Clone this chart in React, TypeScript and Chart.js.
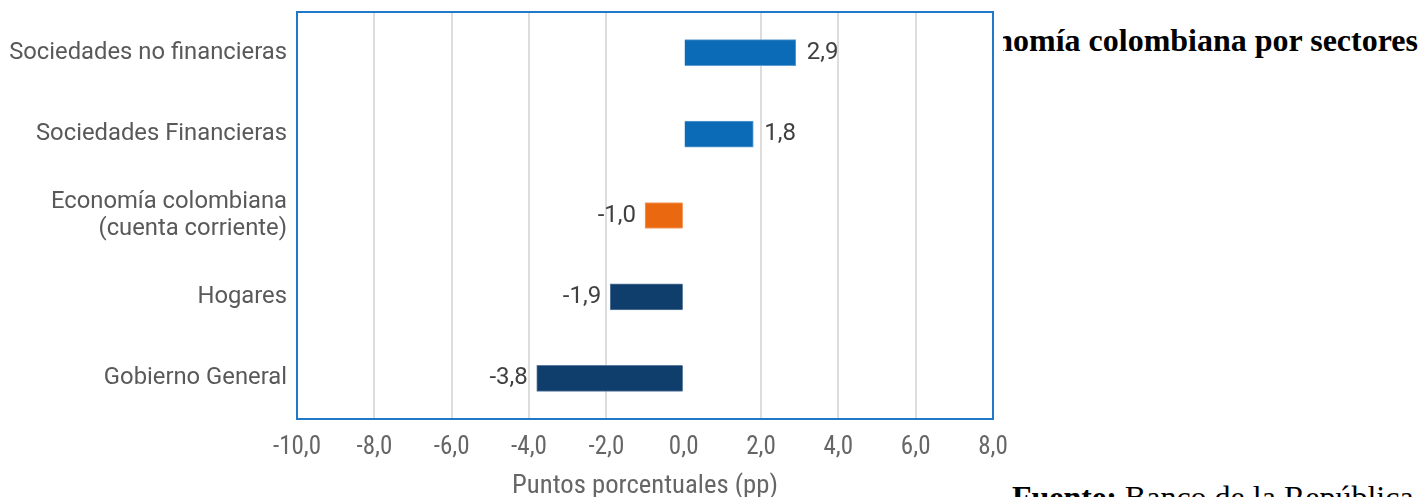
import React, { useEffect, useRef } from 'react';
import { Chart, registerables } from 'chart.js';

Chart.register(...registerables);

const categories: (string | string[])[] = [
  'Sociedades no financieras',
  'Sociedades Financieras',
  ['Economía colombiana', '(cuenta corriente)'],
  'Hogares',
  'Gobierno General',
];
const values = [2.9, 1.8, -1.0, -1.9, -3.8];
const barColors = ['#0b6bb7', '#0b6bb7', '#ea680f', '#103e6c', '#103e6c'];
const barEdges = ['#5d9dd2', '#5d9dd2', '#f4a06a', '#5b7a9c', '#5b7a9c'];
const xMin = -10;
const xMax = 8;
const xStep = 2;
const axisTitle = 'Puntos porcentuales (pp)';
const chartTitle = 'Capacidad o necesidad de financiamiento de la economía colombiana por sectores';
const sourceBold = 'Fuente:';
const sourceText = ' Banco de la República';

const fmt = (v: number) => v.toFixed(1).replace('.', ',');

const narrow = '"Liberation Sans Narrow", "Roboto Condensed", Roboto, sans-serif';

export default function App() {
  const ref = useRef<HTMLCanvasElement | null>(null);

  useEffect(() => {
    if (!ref.current) return;
    const frame = {
      id: 'frame',
      afterDraw(chart: any) {
        const { ctx, chartArea: a } = chart;
        ctx.save();
        ctx.strokeStyle = '#2079c7';
        ctx.lineWidth = 2;
        ctx.strokeRect(a.left, a.top, a.right - a.left, a.bottom - a.top);
        ctx.restore();
      },
    };
    const valueLabels = {
      id: 'valueLabels',
      afterDatasetsDraw(chart: any) {
        const { ctx } = chart;
        const meta = chart.getDatasetMeta(0);
        ctx.save();
        ctx.font = '24px Roboto';
        ctx.fillStyle = '#404040';
        ctx.textBaseline = 'middle';
        meta.data.forEach((el: any, i: number) => {
          const v = values[i];
          if (v >= 0) {
            ctx.textAlign = 'left';
            ctx.fillText(fmt(v), el.x + 11, el.y);
          } else {
            ctx.textAlign = 'right';
            ctx.fillText(fmt(v), el.x - 9, el.y);
          }
        });
        ctx.restore();
      },
    };
    const chart = new Chart(ref.current, {
      type: 'bar',
      data: {
        labels: categories,
        datasets: [
          {
            data: values,
            backgroundColor: barColors,
            borderColor: barEdges,
            borderWidth: 1,
            barThickness: 26,
          },
        ],
      },
      options: {
        indexAxis: 'y',
        animation: false,
        responsive: false,
        maintainAspectRatio: false,
        layout: { padding: { top: 12, right: 27, bottom: 0, left: 0 } },
        plugins: {
          legend: { display: false },
          tooltip: { enabled: false },
        },
        scales: {
          x: {
            min: xMin,
            max: xMax,
            ticks: {
              stepSize: xStep,
              padding: 14,
              color: '#666666',
              font: { family: narrow, size: 25 },
              callback: (v: any) => fmt(Number(v)),
            },
            grid: {
              drawTicks: false,
              lineWidth: 2,
              color: (c: any) => (c.tick && c.tick.value === 0 ? 'rgba(0,0,0,0)' : '#dddddd'),
            },
            border: { display: false },
            title: {
              display: true,
              text: axisTitle,
              color: '#666666',
              font: { family: narrow, size: 26.7, lineHeight: 1 },
              padding: { top: 0, bottom: -3 },
            },
            afterFit: (s: any) => {
              s.height = 78;
              s.paddingLeft = 0;
              s.paddingRight = 0;
            },
          },
          y: {
            ticks: {
              color: '#595959',
              padding: 10,
              font: { family: 'Roboto', size: 23.8, lineHeight: 1.17 },
            },
            grid: { display: false, drawTicks: false },
            border: { display: false },
            afterFit: (s: any) => {
              s.width = 297;
              s.paddingTop = 0;
              s.paddingBottom = 0;
            },
          },
        },
      },
      plugins: [frame, valueLabels],
    } as any);
    return () => chart.destroy();
  }, []);

  return (
    <div>
      <div
        style={{
          position: 'absolute',
          left: 1003,
          top: 22,
          width: 415,
          overflow: 'hidden',
          display: 'flex',
          justifyContent: 'flex-end',
          fontFamily: '"Liberation Serif", "Times New Roman", serif',
          fontWeight: 'bold',
          fontSize: 32,
          whiteSpace: 'nowrap',
        }}
      >
        <span style={{ flexShrink: 0 }}>{chartTitle}</span>
      </div>
      <div
        style={{
          position: 'absolute',
          left: 1012,
          top: 479,
          fontFamily: '"Liberation Serif", "Times New Roman", serif',
          fontSize: 32,
          whiteSpace: 'nowrap',
        }}
      >
        <b>{sourceBold}</b>
        {sourceText}
      </div>
      <div style={{ position: 'absolute', left: 0, top: 0, width: 1020, height: 497 }}>
        <canvas ref={ref} width={1020} height={497} style={{ display: 'block' }} />
      </div>
    </div>
  );
}
